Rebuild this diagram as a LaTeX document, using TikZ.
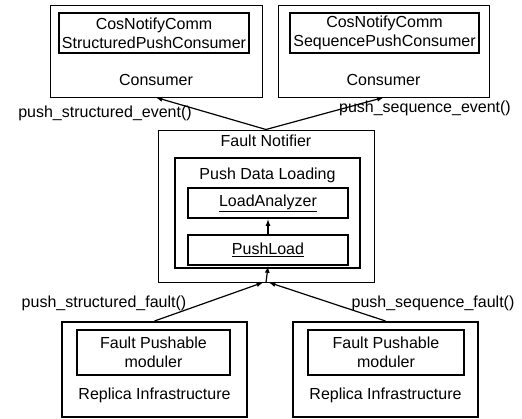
\documentclass[tikz,border=0pt]{standalone}
\usepackage{fontspec}
\setmainfont{Liberation Sans}
\tikzset{
  box/.style={draw, line width=1pt, inner sep=0pt},
  thickbox/.style={draw, line width=2.8pt, inner sep=0pt},
  txt/.style={inner sep=0pt, align=center, font=\fontsize{16}{19}\selectfont},
}
\begin{document}
\begin{tikzpicture}[>=latex, x=1pt, y=-1pt]
\useasboundingbox (0,0) rectangle (522,418);

% consumers
\node[box, minimum width=212, minimum height=92](cons1) at (156,51){};
\node[box, line width=1.3pt, minimum width=190, minimum height=40, txt](cosa) at (154,33){CosNotifyComm\\StructuredPushConsumer};
\node[txt](cons1txt) at (156,80){Consumer};
\node[box, minimum width=211, minimum height=92](cons2) at (383.5,51){};
\node[box, line width=1.3pt, minimum width=189, minimum height=40, txt](cosb) at (384.5,33){CosNotifyComm\\SequencePushConsumer};
\node[txt](cons2txt) at (383.5,80){Consumer};

% fault notifier
\node[box, minimum width=216, minimum height=152](ntf) at (266,206){};
\node[txt](ntftxt) at (266,141){Fault Notifier};
\node[thickbox, minimum width=185, minimum height=110](pdl) at (267.5,213){};
\node[txt](pdltxt) at (267.5,175){Push Data Loading};
\node[thickbox, minimum width=160, minimum height=30, txt](ana) at (268,203){\underline{LoadAnalyzer}};
\node[thickbox, minimum width=160, minimum height=30, txt](pl) at (268,250){\underline{PushLoad}};

% replicas
\node[box, line width=2pt, minimum width=185, minimum height=95](rep1) at (154.5,369.5){};
\node[thickbox, minimum width=153, minimum height=45, txt](fpm1) at (153.5,352.5){Fault Pushable\\moduler};
\node[txt](rep1txt) at (154.5,395){Replica Infrastructure};
\node[box, line width=2pt, minimum width=185, minimum height=95](rep2) at (385.5,369.5){};
\node[thickbox, minimum width=156, minimum height=45, txt](fpm2) at (386,352.5){Fault Pushable\\moduler};
\node[txt](rep2txt) at (385.5,395){Replica Infrastructure};

% calls
\node[txt](sevt) at (105,113){push\_structured\_event()};
\node[txt](qevt) at (425,108){push\_sequence\_event()};
\node[txt](sflt) at (104,303){push\_structured\_fault()};
\node[txt](qflt) at (433,303){push\_sequence\_fault()};

\draw[->, line width=1.2pt](ntf.north)--(cons1.south);
\draw[->, line width=1.2pt](ntf.north)--(cons2.south);
\draw[->, line width=1.2pt](rep1.north)--([xshift=-3]ntf.south);
\draw[->, line width=1.2pt](rep2.north)--([xshift=3]ntf.south);
\draw[->, line width=1.2pt](ntf.south)--(pl.south);
\draw[->, line width=1.2pt](pl.north)--(ana.south);

\end{tikzpicture}
\end{document}
